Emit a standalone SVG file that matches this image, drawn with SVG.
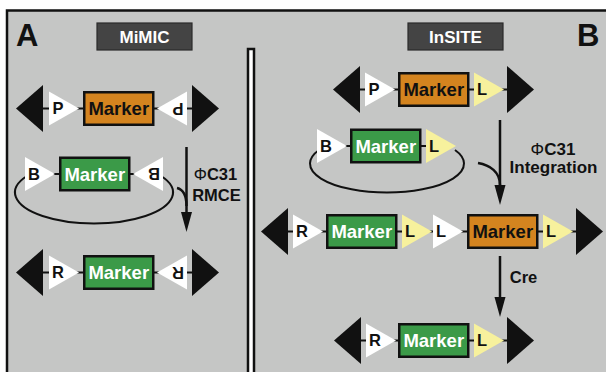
<svg xmlns="http://www.w3.org/2000/svg" xmlns:xlink="http://www.w3.org/1999/xlink" width="606" height="372" viewBox="0 0 606 372">
  <style>
    text { font-family: "Liberation Sans", Arial, sans-serif; font-weight: bold; }
    .panel { fill: #c5c6c5; stroke: #111; stroke-width: 2.5; }
    .divider { fill: #fff; stroke: #111; stroke-width: 2.5; }
    .tag { fill: #444; stroke: #2a2a2a; stroke-width: 1.2; }
    .tag-text { fill: #fff; font-size: 17px; text-anchor: middle; }
    .panel-letter { fill: #111; font-size: 31px; }
    .wire { stroke: #111; stroke-width: 2; fill: none; }
    .end { fill: #111; }
    .site { fill: #fff; }
    .lox { fill: #f7f19d; }
    .box { stroke: #111; stroke-width: 2.5; }
    .orange { fill: #d4841f; }
    .green { fill: #3b9a48; }
    .mk { font-size: 18.5px; text-anchor: middle; }
    .mk-dark { fill: #111; }
    .mk-light { fill: #fff; }
    .site-text { fill: #111; font-size: 16.5px; text-anchor: middle; }
    .conn { stroke: #111; stroke-width: 2.5; fill: none; }
    .conn-text { fill: #111; font-size: 16.5px; text-anchor: middle; }
    .conn-text-b { fill: #111; font-size: 17px; text-anchor: middle; }
    .phi { font-weight: normal; }
  </style>
  <defs>
    <!-- black end cap: base at x=0, tip pointing right -->
    <polygon id="endR" points="0,-23.5 27,0 0,23.5"/>
    <!-- recombination site: base at x=0, tip pointing right -->
    <polygon id="triR" points="0,-17 30,0 0,17"/>
    <!-- marker cassette outline -->
    <rect id="box" x="1.25" y="-16.25" width="69" height="32.5"/>
    <marker id="head" viewBox="0 -6 20 12" refX="2" refY="0" markerUnits="userSpaceOnUse" markerWidth="20" markerHeight="12" orient="auto">
      <path d="M0,-5.5 L20,0 L0,5.5 z" fill="#111"/>
    </marker>
  </defs>

  <!-- background and frame -->
  <rect x="0" y="0" width="606" height="372" fill="#fff"/>
  <rect class="panel" x="7" y="10.5" width="620" height="380"/>
  <rect class="divider" x="248" y="49" width="6" height="340"/>

  <!-- panel headings -->
  <text class="panel-letter" x="16" y="46">A</text>
  <text class="panel-letter" x="577" y="46">B</text>
  <g id="tag-mimic">
    <rect class="tag" x="97" y="23" width="95" height="27"/>
    <text class="tag-text" x="144.5" y="42.5">MiMIC</text>
  </g>
  <g id="tag-insite">
    <rect class="tag" x="408" y="23" width="95" height="27"/>
    <text class="tag-text" x="455.5" y="42.5">InSITE</text>
  </g>

  <!-- MiMIC: genomic insertion with inverted attP sites -->
  <g id="mimic-attP">
    <line class="wire" x1="43" y1="108.5" x2="192" y2="108.5"/>
    <use xlink:href="#endR" class="end" transform="translate(43,108.5) scale(-1,1)"/>
    <use xlink:href="#triR" class="site" transform="translate(49,108.5)"/>
    <use xlink:href="#box" class="box orange" transform="translate(83,108.5)"/>
    <use xlink:href="#triR" class="site" transform="translate(187,108.5) scale(-1,1)"/>
    <use xlink:href="#endR" class="end" transform="translate(192,108.5)"/>
    <text class="site-text" x="58" y="114.4">P</text>
    <text class="mk mk-dark" x="118.75" y="115.2">Marker</text>
    <text class="site-text" x="178" y="114.4" transform="rotate(180 178 108.5)">P</text>
  </g>

  <!-- MiMIC: circular donor with attB sites -->
  <g id="mimic-donor">
    <path class="wire" d="M27 176 A79 31 0 1 0 161 176"/>
    <line class="wire" x1="30" y1="174" x2="160" y2="174"/>
    <use xlink:href="#triR" class="site" transform="translate(25,174)"/>
    <use xlink:href="#box" class="box green" transform="translate(59,174)"/>
    <use xlink:href="#triR" class="site" transform="translate(163,174) scale(-1,1)"/>
    <text class="site-text" x="34" y="179.9">B</text>
    <text class="mk mk-light" x="94.75" y="180.7">Marker</text>
    <text class="site-text" x="154" y="179.9" transform="rotate(180 154 174)">B</text>
  </g>

  <!-- MiMIC: exchanged cassette with attR sites -->
  <g id="mimic-attR">
    <line class="wire" x1="43" y1="272.5" x2="192" y2="272.5"/>
    <use xlink:href="#endR" class="end" transform="translate(43,272.5) scale(-1,1)"/>
    <use xlink:href="#triR" class="site" transform="translate(49,272.5)"/>
    <use xlink:href="#box" class="box green" transform="translate(83,272.5)"/>
    <use xlink:href="#triR" class="site" transform="translate(187,272.5) scale(-1,1)"/>
    <use xlink:href="#endR" class="end" transform="translate(192,272.5)"/>
    <text class="site-text" x="58" y="278.4">R</text>
    <text class="mk mk-light" x="118.75" y="279.2">Marker</text>
    <text class="site-text" x="178" y="278.4" transform="rotate(180 178 272.5)">R</text>
  </g>

  <!-- InSITE: genomic insertion -->
  <g id="insite-attP">
    <line class="wire" x1="360" y1="89.5" x2="507" y2="89.5"/>
    <use xlink:href="#endR" class="end" transform="translate(360,89.5) scale(-1,1)"/>
    <use xlink:href="#triR" class="site" transform="translate(365,89.5)"/>
    <use xlink:href="#box" class="box orange" transform="translate(398,89.5)"/>
    <use xlink:href="#triR" class="lox" transform="translate(474,89.5)"/>
    <use xlink:href="#endR" class="end" transform="translate(507,89.5)"/>
    <text class="site-text" x="374" y="95.4">P</text>
    <text class="mk mk-dark" x="433.75" y="96.2">Marker</text>
    <text class="site-text" x="482" y="95.4">L</text>
  </g>

  <!-- InSITE: circular donor -->
  <g id="insite-donor">
    <path class="wire" d="M319 150 A77 29 0 1 0 455 150"/>
    <line class="wire" x1="320" y1="146" x2="450" y2="146"/>
    <use xlink:href="#triR" class="site" transform="translate(317,146)"/>
    <use xlink:href="#box" class="box green" transform="translate(350,146)"/>
    <use xlink:href="#triR" class="lox" transform="translate(426,146)"/>
    <text class="site-text" x="326" y="151.9">B</text>
    <text class="mk mk-light" x="385.75" y="152.7">Marker</text>
    <text class="site-text" x="434" y="151.9">L</text>
  </g>

  <!-- InSITE: integrated tandem -->
  <g id="insite-integrated">
    <line class="wire" x1="288" y1="231.5" x2="576" y2="231.5"/>
    <use xlink:href="#endR" class="end" transform="translate(288,231.5) scale(-1,1)"/>
    <use xlink:href="#triR" class="site" transform="translate(293,231.5)"/>
    <use xlink:href="#box" class="box green" transform="translate(326,231.5)"/>
    <use xlink:href="#triR" class="lox" transform="translate(402,231.5)"/>
    <use xlink:href="#triR" class="site" transform="translate(433,231.5)"/>
    <use xlink:href="#box" class="box orange" transform="translate(467,231.5)"/>
    <use xlink:href="#triR" class="lox" transform="translate(543,231.5)"/>
    <use xlink:href="#endR" class="end" transform="translate(576,231.5)"/>
    <text class="site-text" x="302" y="237.4">R</text>
    <text class="mk mk-light" x="361.75" y="238.2">Marker</text>
    <text class="site-text" x="410" y="237.4">L</text>
    <text class="site-text" x="441" y="237.4">L</text>
    <text class="mk mk-dark" x="502.75" y="238.2">Marker</text>
    <text class="site-text" x="551" y="237.4">L</text>
  </g>

  <!-- InSITE: after Cre excision -->
  <g id="insite-excised">
    <line class="wire" x1="361" y1="340.5" x2="507" y2="340.5"/>
    <use xlink:href="#endR" class="end" transform="translate(361,340.5) scale(-1,1)"/>
    <use xlink:href="#triR" class="site" transform="translate(366,340.5)"/>
    <use xlink:href="#box" class="box green" transform="translate(398,340.5)"/>
    <use xlink:href="#triR" class="lox" transform="translate(474,340.5)"/>
    <use xlink:href="#endR" class="end" transform="translate(507,340.5)"/>
    <text class="site-text" x="375" y="346.4">R</text>
    <text class="mk mk-light" x="433.75" y="347.2">Marker</text>
    <text class="site-text" x="482" y="346.4">L</text>
  </g>

  <!-- reaction arrows -->
  <g id="connectors">
    <path class="conn" d="M186.5 147 V214" marker-end="url(#head)"/>
    <path class="conn" d="M177 188 C183 189.5 186.5 195 186.5 206"/>
    <text class="conn-text" x="215.5" y="179.5"><tspan class="phi">Φ</tspan>C31</text>
    <text class="conn-text" x="216.5" y="201">RMCE</text>

    <path class="conn" d="M500 120 V187" marker-end="url(#head)"/>
    <path class="conn" d="M478 163 C490 165 500 172 500 185"/>
    <text class="conn-text-b" x="553" y="155"><tspan class="phi">Φ</tspan>C31</text>
    <text class="conn-text-b" x="553.5" y="172.5">Integration</text>

    <path class="conn" d="M500 256 V299" marker-end="url(#head)"/>
    <text class="conn-text" x="523.5" y="283">Cre</text>
  </g>
</svg>
